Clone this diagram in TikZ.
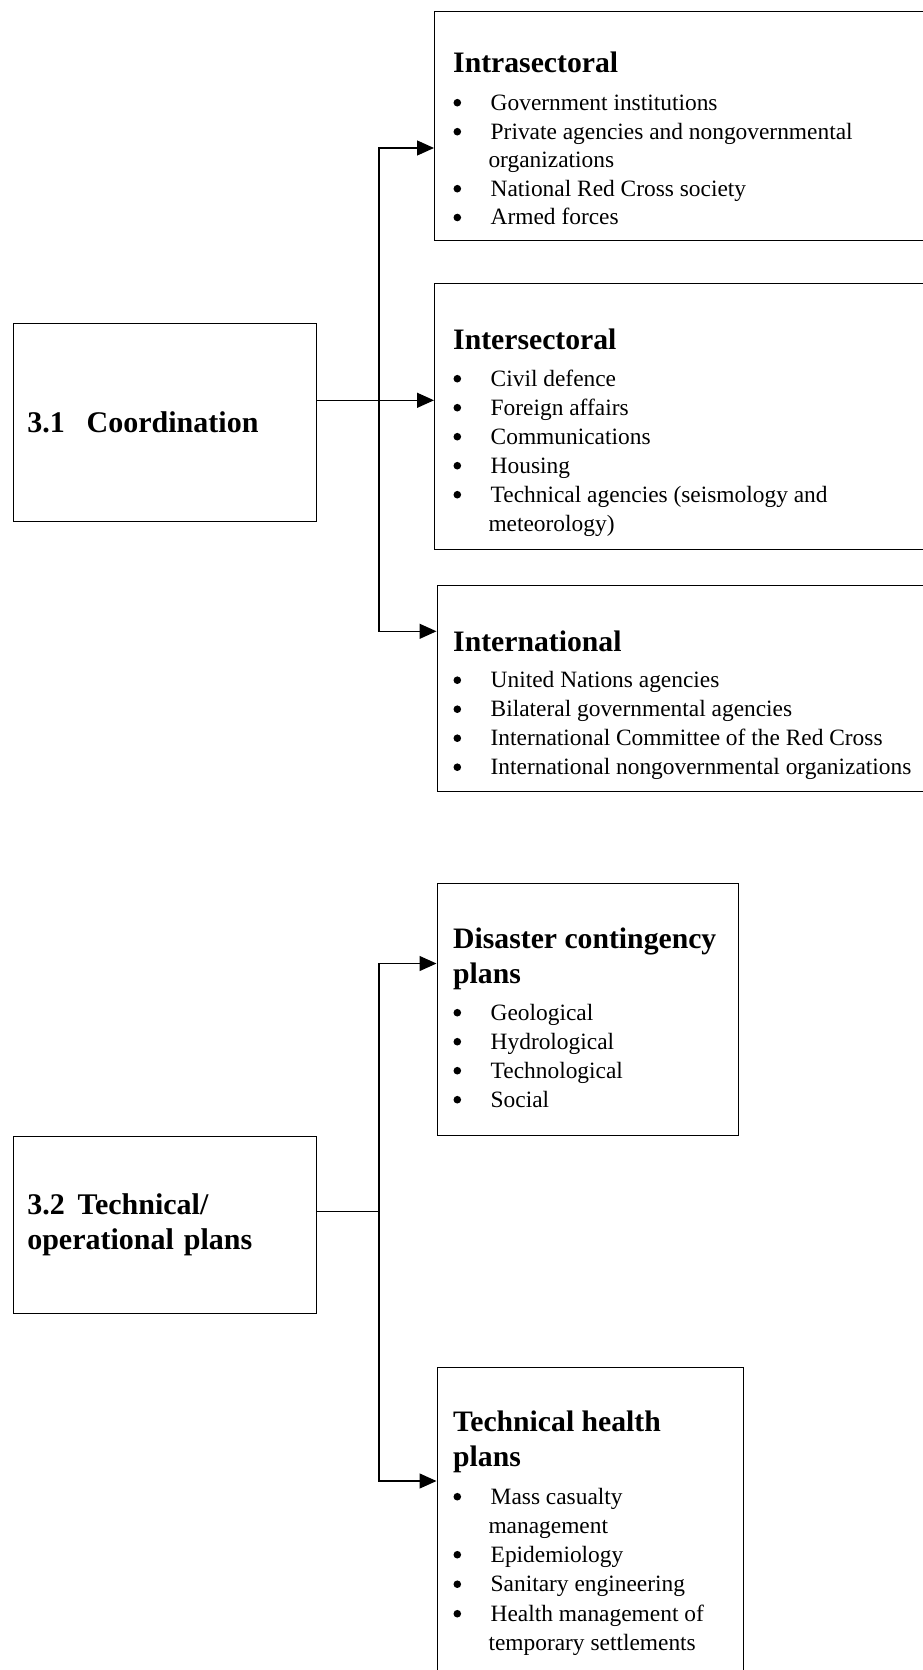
\documentclass[tikz,border=0pt]{standalone}
\usepackage{fontspec}
\setmainfont{Liberation Serif}
\usetikzlibrary{arrows.meta}
\newcommand\BulItem[3]{\node[itm] (#1) at (490.5,#2) {#3}; \node[dot] (#1-b) at ([xshift=-33.2pt, yshift=7.3pt]#1.base west) {};}
\newcommand\ContItem[3]{\node[itm] (#1) at (488.3,#2) {#3};}
\newcommand\TtlLine[3]{\node[ttl] (#1) at (453,#2) {#3};}
\begin{document}
\begin{tikzpicture}[x=1pt,y=-1pt,
  box/.style={draw, line width=1.3pt, rectangle, inner sep=0pt, anchor=north west},
  lbox/.style={box, inner xsep=13.8pt, text width=275.6pt, align=left, font=\fontsize{30}{35}\selectfont\bfseries},
  ttl/.style={anchor=base west, inner sep=0pt, font=\fontsize{29.7}{35}\selectfont\bfseries},
  itm/.style={anchor=base west, inner sep=0pt, font=\fontsize{23.4}{29}\selectfont},
  dot/.style={circle, fill, inner sep=0pt, minimum size=7.6pt},
  conn/.style={line width=1.3pt},
  arr/.style={conn, -{Triangle[length=17pt,width=15pt]}},
]
\useasboundingbox (0,0) rectangle (923,1670);
\clip (0,0) rectangle (923,1670);

% left boxes
\node[lbox, minimum width=303.2pt, minimum height=198pt] (coord) at (12.8,322.6) {3.1\hspace{22pt}Coordination};
\node[lbox, minimum width=303.2pt, minimum height=176.7pt] (tech) at (12.8,1136) {3.2\hspace{13pt}Technical/\\operational plans};

% right boxes
\node[box, minimum width=600pt, minimum height=229pt] (intra) at (434,10.6) {};
\node[box, minimum width=600pt, minimum height=266pt] (inter) at (434,283) {};
\node[box, minimum width=600pt, minimum height=206.5pt] (intl) at (436.5,584.5) {};
\node[box, minimum width=301.3pt, minimum height=252.3pt] (dis) at (436.5,882.6) {};
\node[box, minimum width=306.5pt, minimum height=400pt] (hlth) at (436.5,1367) {};

% Intrasectoral
\TtlLine{t1}{73}{Intrasectoral}
\BulItem{a1}{110}{Government institutions}
\BulItem{a2}{139}{Private agencies and nongovernmental}
\ContItem{a2c}{167.5}{organizations}
\BulItem{a3}{196}{National Red Cross society}
\BulItem{a4}{224.8}{Armed forces}

% Intersectoral
\TtlLine{t2}{349.5}{Intersectoral}
\BulItem{b1}{386}{Civil defence}
\BulItem{b2}{415}{Foreign affairs}
\BulItem{b3}{444}{Communications}
\BulItem{b4}{473}{Housing}
\BulItem{b5}{502}{Technical agencies (seismology and}
\ContItem{b5c}{531}{meteorology)}

% International
\TtlLine{t3}{651}{International}
\BulItem{c1}{687.5}{United Nations agencies}
\BulItem{c2}{716.5}{Bilateral governmental agencies}
\BulItem{c3}{745.5}{International Committee of the Red Cross}
\BulItem{c4}{774.5}{International nongovernmental organizations}

% Disaster contingency plans
\TtlLine{t4}{948.5}{Disaster contingency}
\TtlLine{t4b}{983.5}{plans}
\BulItem{d1}{1020}{Geological}
\BulItem{d2}{1049}{Hydrological}
\BulItem{d3}{1078}{Technological}
\BulItem{d4}{1107}{Social}

% Technical health plans
\TtlLine{t5}{1431}{Technical health}
\TtlLine{t5b}{1466}{plans}
\BulItem{e1}{1504}{Mass casualty}
\ContItem{e1c}{1533}{management}
\BulItem{e2}{1562}{Epidemiology}
\BulItem{e3}{1591.5}{Sanitary engineering}
\BulItem{e4}{1621}{Health management of}
\ContItem{e4c}{1650}{temporary settlements}

% connectors
\coordinate (ra) at (379,148);
\coordinate (rb) at (379,400.3);
\coordinate (rc) at (379,631.3);
\draw[arr] (coord.east |- rb) -- (inter.west |- rb);
\draw[arr] (rb) |- (intra.west |- ra);
\draw[arr] (rb) |- (intl.west |- rc);

\coordinate (rd) at (379,963.5);
\coordinate (rf) at (379,1211.5);
\coordinate (re) at (379,1481);
\draw[conn] (tech.east |- rf) -- (rf);
\draw[arr] (rf) |- (dis.west |- rd);
\draw[arr] (rf) |- (hlth.west |- re);
\end{tikzpicture}
\end{document}
